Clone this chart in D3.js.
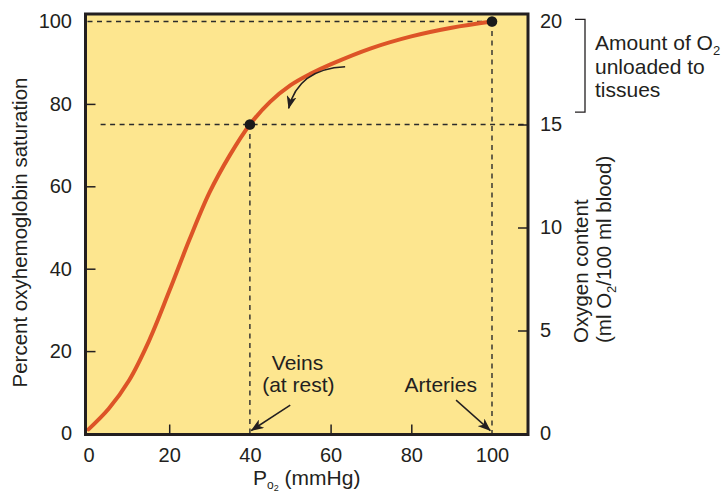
<!DOCTYPE html>
<html>
<head>
<meta charset="utf-8">
<script src="https://cdn.jsdelivr.net/npm/d3@7"></script>
<style>
  html, body { margin: 0; padding: 0; background: #ffffff; }
  svg { display: block; }
  text { font-family: "Liberation Sans", Arial, Helvetica, sans-serif; fill: #231f20; }
</style>
</head>
<body>
<svg id="chart" width="724" height="492"></svg>
<script>
// ---------- data ----------
const po2 = [0, 5, 10, 15, 20, 25, 30, 35, 40, 45, 50, 55, 60, 70, 80, 90, 100];
const saturation = [1, 6, 12.8, 22.5, 34.5, 47, 58.5, 67.5, 75, 80.5, 84.5, 87.3, 89.6, 93.5, 96.4, 98.5, 100];

const xTicks = [0, 20, 40, 60, 80, 100];
const yLeftTicks = [0, 20, 40, 60, 80, 100];
const yRightTicks = [0, 5, 10, 15, 20];

const keyPo2 = [40, 100];          // veins, arteries
const keySat = [75, 100];

const bracketContent = [15.6, 20.1]; // ml O2 / 100 ml blood
const bracketLines = ["Amount of O", "unloaded to", "tissues"];

const veinsLabel = ["Veins", "(at rest)"];
const arteriesLabel = "Arteries";

// annotation anchors in data units (PO2, % saturation)
const veinsText = [[51.8, 15.4], [52, 10]];
const arteriesText = [87.3, 10];
const veinsArrow = [[50, 6.9], [40.3, 0.7]];
const arteriesArrow = [[91.1, 8.1], [99.6, 0.7]];
const curvedArrow = [[63.6, 89], [52, 88.5], [49.6, 78.9]];

// ---------- layout ----------
const frame = { left: 85.5, right: 528, top: 14, bottom: 434.5 };
const svg = d3.select("#chart");

const x = d3.scaleLinear().domain([0, 100]).range([88.5, 492]);
const yL = d3.scaleLinear().domain([0, 100]).range([433.5, 21.5]);
const yR = d3.scaleLinear().domain([0, 20]).range([433.5, 21.5]);

const ink = "#231f20";
const curveColor = "#dd5427";
const panelColor = "#fde68f";

// markers
const defs = svg.append("defs");
defs.append("marker")
  .attr("id", "head")
  .attr("viewBox", "0 0 13 10")
  .attr("refX", 12.5).attr("refY", 5)
  .attr("markerWidth", 13).attr("markerHeight", 10)
  .attr("markerUnits", "userSpaceOnUse")
  .attr("orient", "auto")
  .append("path")
  .attr("d", "M0,0 L13,5 L0,10 L3.5,5 Z")
  .attr("fill", ink);

// panel
svg.append("rect")
  .attr("x", frame.left).attr("y", frame.top)
  .attr("width", frame.right - frame.left)
  .attr("height", frame.bottom - frame.top)
  .attr("fill", panelColor);

// dashed guide lines
const dash = svg.append("g")
  .attr("stroke", "#2b2b2b").attr("stroke-width", 1.4)
  .attr("stroke-dasharray", "5,4.5").attr("fill", "none");
dash.append("line")
  .attr("x1", frame.left + 2).attr("x2", x(keyPo2[1]))
  .attr("y1", yL(keySat[1])).attr("y2", yL(keySat[1]));
dash.append("line")
  .attr("x1", x(3)).attr("x2", frame.right)
  .attr("y1", yL(keySat[0])).attr("y2", yL(keySat[0]));
keyPo2.forEach((p, i) => {
  dash.append("line")
    .attr("x1", x(p)).attr("x2", x(p))
    .attr("y1", yL(keySat[i])).attr("y2", frame.bottom);
});

// curve
const line = d3.line()
  .x((d, i) => x(po2[i]))
  .y((d, i) => yL(saturation[i]))
  .curve(d3.curveCatmullRom.alpha(0.5));
svg.append("path")
  .datum(po2)
  .attr("d", line)
  .attr("fill", "none")
  .attr("stroke", curveColor)
  .attr("stroke-width", 4)
  .attr("stroke-linecap", "round");

// key points
svg.selectAll("circle.key")
  .data(keyPo2)
  .join("circle")
  .attr("class", "key")
  .attr("cx", d => x(d))
  .attr("cy", (d, i) => yL(keySat[i]))
  .attr("r", 5.3)
  .attr("fill", "#1a1a1a");

// axes
function styleAxis(g, hideTicks) {
  g.select(".domain").remove();
  g.selectAll(".tick line")
    .attr("stroke", ink).attr("stroke-width", 1.5)
    .attr("display", d => hideTicks.includes(d) ? "none" : null);
  g.selectAll(".tick text")
    .attr("font-size", 20)
    .attr("font-family", "Liberation Sans, Arial, sans-serif")
    .attr("fill", ink);
  g.attr("font-family", null).attr("font-size", null);
}

svg.append("g")
  .attr("transform", `translate(${frame.left},0)`)
  .call(d3.axisLeft(yL).tickValues(yLeftTicks).tickSize(-10).tickPadding(13.5))
  .call(g => styleAxis(g, [0, 100]));

svg.append("g")
  .attr("transform", `translate(${frame.right},0)`)
  .call(d3.axisRight(yR).tickValues(yRightTicks).tickSize(-10).tickPadding(12))
  .call(g => styleAxis(g, [0, 20]));

svg.append("g")
  .attr("transform", `translate(0,${frame.bottom})`)
  .call(d3.axisBottom(x).tickValues(xTicks).tickSize(-10).tickPadding(13))
  .call(g => styleAxis(g, [0, 40, 100]));

// frame border
svg.append("rect")
  .attr("x", frame.left).attr("y", frame.top)
  .attr("width", frame.right - frame.left)
  .attr("height", frame.bottom - frame.top)
  .attr("fill", "none")
  .attr("stroke", ink).attr("stroke-width", 3);

// axis titles
svg.append("text")
  .attr("transform", `translate(26.5,${(70 + 395) / 2}) rotate(-90)`)
  .attr("text-anchor", "middle")
  .attr("font-size", 20.5)
  .text("Percent oxyhemoglobin saturation");

const xt = svg.append("text")
  .attr("x", (frame.left + frame.right) / 2)
  .attr("y", 485)
  .attr("text-anchor", "middle")
  .attr("font-size", 21);
xt.append("tspan").text("P");
xt.append("tspan").attr("font-size", 12).attr("dy", 4).text("o");
xt.append("tspan").attr("font-size", 9).attr("dy", 2).text("2");
xt.append("tspan").attr("font-size", 21).attr("dy", -6).text(" (mmHg)");

const rt = svg.append("g").attr("transform", "translate(0,343) rotate(-90)");
rt.append("text").attr("x", 0).attr("y", 588).attr("font-size", 20.5).text("Oxygen content");
const rt2 = rt.append("text").attr("x", 0).attr("y", 611).attr("font-size", 20.5);
rt2.append("tspan").text("(ml O");
rt2.append("tspan").attr("font-size", 13).attr("dy", 5).text("2");
rt2.append("tspan").attr("dy", -5).text("/100 ml blood)");

// bracket
svg.append("path")
  .attr("d", `M575,${yR(bracketContent[1])} H585 V${yR(bracketContent[0])} H575`)
  .attr("fill", "none").attr("stroke", ink).attr("stroke-width", 1.3);

const bt = svg.append("g");
bracketLines.forEach((t, i) => {
  const tx = bt.append("text")
    .attr("x", 595).attr("y", 50 + i * 23.5)
    .attr("font-size", 21);
  tx.append("tspan").text(t);
  if (i === 0) {
    tx.append("tspan").attr("font-size", 13).attr("dy", 5).text("2");
  }
});

// annotations
veinsLabel.forEach((t, i) => {
  svg.append("text")
    .attr("x", x(veinsText[i][0])).attr("y", yL(veinsText[i][1]))
    .attr("text-anchor", "middle").attr("font-size", 21)
    .text(t);
});
svg.append("text")
  .attr("x", x(arteriesText[0])).attr("y", yL(arteriesText[1]))
  .attr("text-anchor", "middle").attr("font-size", 21)
  .text(arteriesLabel);

[veinsArrow, arteriesArrow].forEach(a => {
  svg.append("line")
    .attr("x1", x(a[0][0])).attr("y1", yL(a[0][1]))
    .attr("x2", x(a[1][0])).attr("y2", yL(a[1][1]))
    .attr("stroke", ink).attr("stroke-width", 1.5)
    .attr("marker-end", "url(#head)");
});

const cp = d3.path();
cp.moveTo(x(curvedArrow[0][0]), yL(curvedArrow[0][1]));
cp.quadraticCurveTo(x(curvedArrow[1][0]), yL(curvedArrow[1][1]),
                    x(curvedArrow[2][0]), yL(curvedArrow[2][1]));
svg.append("path")
  .attr("d", cp.toString())
  .attr("fill", "none").attr("stroke", ink).attr("stroke-width", 1.5)
  .attr("marker-end", "url(#head)");
</script>
</body>
</html>
